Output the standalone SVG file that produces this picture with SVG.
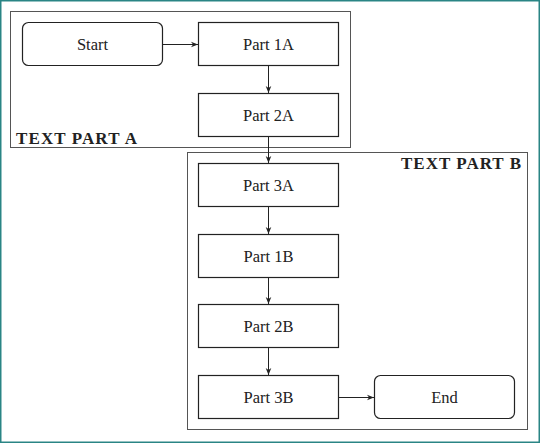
<svg xmlns="http://www.w3.org/2000/svg" width="540" height="443" viewBox="0 0 540 443">
<style>
.frame{fill:none;stroke:#555;stroke-width:1}
.box{fill:#fff;stroke:#222;stroke-width:1.2}
.lbl{font-family:"Liberation Serif","DejaVu Serif",serif;font-size:16.5px;fill:#222;text-anchor:middle;dominant-baseline:central}
.title{font-family:"Liberation Serif","DejaVu Serif",serif;font-size:17px;font-weight:bold;fill:#222}
.conn{stroke:#222;stroke-width:1;fill:none;marker-end:url(#arr)}
</style>
<defs>
<marker id="arr" viewBox="0 0 10 10" refX="10" refY="5" markerWidth="7" markerHeight="7" markerUnits="userSpaceOnUse" orient="auto">
<path d="M0,1 L10,5 L0,9 L3,5 Z" fill="#222"/>
</marker>
</defs>
<rect x="0" y="0" width="540" height="443" fill="#fff"/>
<rect x="0.75" y="0.75" width="538.5" height="441.5" fill="none" stroke="#2a8585" stroke-width="1.5"/>
<g id="frameA">
<rect class="frame" x="10.5" y="11.5" width="340" height="136"/>
<text class="title" x="16" y="143.5" textLength="121" lengthAdjust="spacing">TEXT PART A</text>
</g>
<g id="frameB">
<rect class="frame" x="187.5" y="152.5" width="340" height="277"/>
<text class="title" x="401" y="168.5" textLength="120" lengthAdjust="spacing">TEXT PART B</text>
</g>
<g id="connectors">
<line class="conn" x1="163" y1="44.5" x2="198" y2="44.5"/>
<line class="conn" x1="268.5" y1="66" x2="268.5" y2="93"/>
<line class="conn" x1="268.5" y1="136" x2="268.5" y2="163"/>
<line class="conn" x1="268.5" y1="207" x2="268.5" y2="234"/>
<line class="conn" x1="268.5" y1="277" x2="268.5" y2="304"/>
<line class="conn" x1="268.5" y1="348" x2="268.5" y2="375"/>
<line class="conn" x1="339" y1="397.5" x2="374" y2="397.5"/>
</g>
<g id="start"><rect class="box" x="22.5" y="22.5" width="140" height="43" rx="6"/><text class="lbl" x="92.5" y="44">Start</text></g>
<g id="part1a"><rect class="box" x="198.5" y="22.5" width="140" height="43"/><text class="lbl" x="268.5" y="44">Part 1A</text></g>
<g id="part2a"><rect class="box" x="198.5" y="93.5" width="140" height="43"/><text class="lbl" x="268.5" y="115">Part 2A</text></g>
<g id="part3a"><rect class="box" x="198.5" y="163.5" width="140" height="43"/><text class="lbl" x="268.5" y="185">Part 3A</text></g>
<g id="part1b"><rect class="box" x="198.5" y="234.5" width="140" height="43"/><text class="lbl" x="268.5" y="256">Part 1B</text></g>
<g id="part2b"><rect class="box" x="198.5" y="304.5" width="140" height="43"/><text class="lbl" x="268.5" y="326">Part 2B</text></g>
<g id="part3b"><rect class="box" x="198.5" y="375.5" width="140" height="43"/><text class="lbl" x="268.5" y="397">Part 3B</text></g>
<g id="end"><rect class="box" x="374.5" y="375.5" width="140" height="43" rx="6"/><text class="lbl" x="444.5" y="397">End</text></g>
</svg>
